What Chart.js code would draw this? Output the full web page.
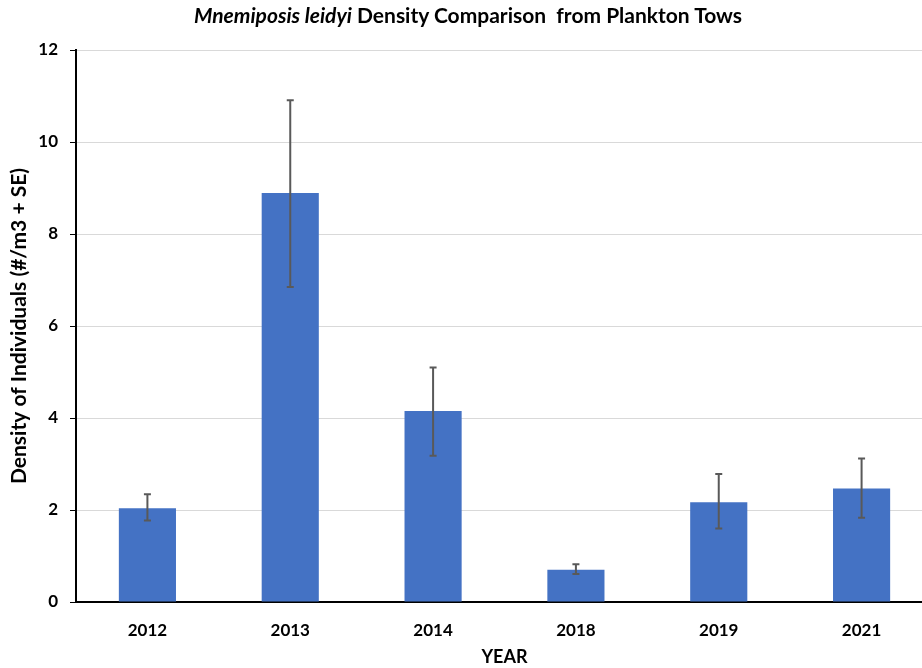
<!DOCTYPE html>
<html>
<head>
<meta charset="utf-8">
<script src="https://cdn.jsdelivr.net/npm/chart.js@4"></script>
<style>
  html, body { margin: 0; padding: 0; background: #fff; overflow: hidden; }
  #wrap { position: relative; width: 922px; height: 668px; overflow: hidden; }
  #title {
    position: absolute; left: 0; top: 2px; width: 936px; text-align: center;
    font: bold 21px Lato, sans-serif; color: #000; white-space: pre;
  }
  canvas { display: block; }
</style>
</head>
<body>
<div id="wrap">
  <div id="title"><i>Mnemiposis leidyi</i> Density Comparison  from Plankton Tows</div>
  <canvas id="chart" width="935" height="668"></canvas>
</div>
<script>
const years = ["2012", "2013", "2014", "2018", "2019", "2021"];
const density = [2.04, 8.89, 4.15, 0.70, 2.17, 2.47];
const errHigh = [2.34, 10.91, 5.10, 0.82, 2.78, 3.12];
const errLow = [1.77, 6.85, 3.18, 0.61, 1.60, 1.83];
const yTicks = [0, 2, 4, 6, 8, 10, 12];

const FONT = "Lato, sans-serif";

// error bars drawn on top of the bars using the chart's scales
const errorBars = {
    id: "errorBars",
    afterDatasetsDraw(chart) {
        const c = chart.ctx;
        const x = chart.scales.x;
        const y = chart.scales.y;
        c.save();
        c.strokeStyle = "#595959";
        c.lineWidth = 2;
        years.forEach((yr, i) => {
            const px = x.getPixelForValue(i);
            const top = y.getPixelForValue(errHigh[i]);
            const bot = y.getPixelForValue(errLow[i]);
            c.beginPath();
            c.moveTo(px, top);
            c.lineTo(px, bot);
            c.moveTo(px - 3.5, top);
            c.lineTo(px + 3.5, top);
            c.moveTo(px - 3.5, bot);
            c.lineTo(px + 3.5, bot);
            c.stroke();
        });
        c.restore();
    }
};

new Chart(document.getElementById("chart"), {
    type: "bar",
    data: {
        labels: years,
        datasets: [{
            data: density,
            backgroundColor: "#4472C4",
            borderWidth: 0,
            barPercentage: 0.4,
            categoryPercentage: 1
        }]
    },
    options: {
        responsive: false,
        animation: false,
        layout: { padding: { top: 50, right: 2, left: 0, bottom: 0 } },
        plugins: { legend: { display: false }, tooltip: { enabled: false } },
        scales: {
            x: {
                grid: { display: false },
                border: { color: "#000", width: 2 },
                ticks: { color: "#000", padding: 10, font: { family: FONT, size: 17, weight: "bold" } },
                title: {
                    display: true, text: "YEAR", color: "#000",
                    padding: { top: 0, bottom: 0 },
                    font: { family: FONT, size: 18, weight: "bold" }
                },
                afterFit(scale) { scale.height = 66; }
            },
            y: {
                min: 0,
                max: 12,
                afterBuildTicks(scale) { scale.ticks = yTicks.map(v => ({ value: v })); },
                grid: { color: "#d9d9d9", tickColor: "#000", tickLength: 6, lineWidth: 1 },
                border: { color: "#000", width: 2 },
                ticks: { color: "#000", padding: 12, font: { family: FONT, size: 17, weight: "bold" } },
                title: {
                    display: true, text: "Density of Individuals (#/m3 + SE)", color: "#000",
                    padding: { top: 7, bottom: 0 },
                    font: { family: FONT, size: 21, weight: "bold" }
                },
                afterFit(scale) { scale.width = 76; }
            }
        }
    },
    plugins: [errorBars]
});
</script>
</body>
</html>
